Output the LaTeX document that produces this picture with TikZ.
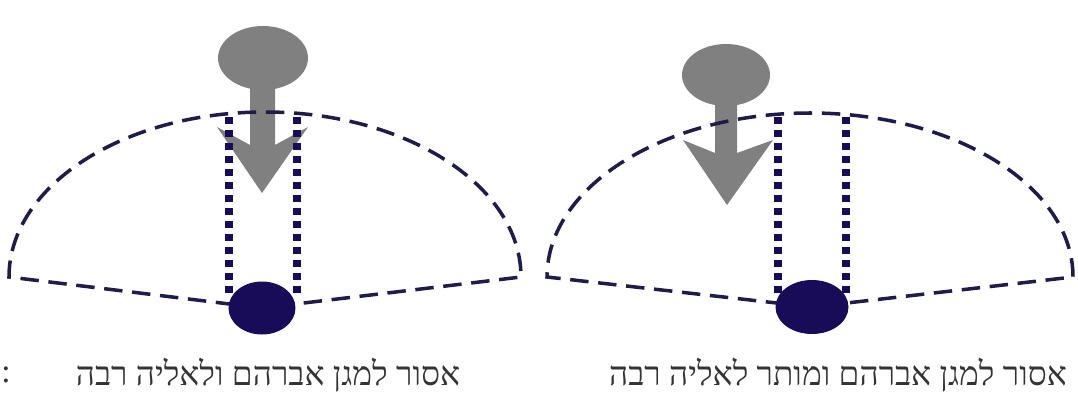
\documentclass[tikz,border=0pt]{standalone}
\usepackage{fontspec}
\newfontfamily\hebfont[Script=Hebrew]{Liberation Serif}
\TeXXeTstate=1
\usepackage{tikz}
\usetikzlibrary{shapes.geometric}
\definecolor{navy}{RGB}{24,12,88}
\definecolor{rimcol}{RGB}{30,28,72}
\definecolor{persongray}{RGB}{128,128,128}

\begin{document}
\begin{tikzpicture}[x=0.02cm, y=0.02cm,
  rim/.style={draw=rimcol, line width=2pt, dash pattern=on 10.5pt off 5.5pt},
  beam/.style={draw=navy, line width=4pt, dash pattern=on 4.2pt off 3.2pt},
  eye/.style={ellipse, fill=navy, inner sep=0pt},
  head/.style={ellipse, fill=persongray, inner sep=0pt},
  caption/.style={font=\hebfont\fontsize{19}{22}\selectfont, text=black!80}]
  \useasboundingbox (0,0) rectangle (1078,417);
  % left: person straight above
  \fill[persongray] (250,335) -- (250,272) -- (217,290) -- (262,224)
    -- (308,290) -- (275,272) -- (275,335) -- cycle;
  \node[head, minimum width=1.8cm, minimum height=1.28cm] (headL) at (263,359) {};
  \coordinate (apexL) at (262,109);
  \draw[rim] (apexL) -- (9,140)
    arc[start angle=180, end angle=0, x radius=256, y radius=165] -- (apexL);
  % right: person off to the side
  \fill[persongray] (715,320) -- (715,264) -- (683,277) -- (727,212)
    -- (773,277) -- (737,264) -- (737,320) -- cycle;
  \node[head, minimum width=1.76cm, minimum height=1.24cm] (headR) at (726,342) {};
  \coordinate (apexR) at (812,110);
  \draw[rim] (apexR) -- (547,140)
    arc[start angle=180, end angle=0, x radius=263, y radius=164] -- (apexR);
  % dotted beams
  \foreach \x in {229,297,778,846}{
    \draw[beam] (\x,300) -- (\x,122);}
  \node[eye, minimum width=1.34cm, minimum height=1.06cm] (eyeL) at (apexL) {};
  \node[eye, minimum width=1.46cm, minimum height=1.08cm] (eyeR) at (apexR) {};
  % captions
  \node[caption] (capL) at (268,42) {\beginR אסור למגן אברהם ולאליה רבה\endR};
  \node[caption] (capR) at (838,42) {\beginR אסור למגן אברהם ומותר לאליה רבה\endR};
  \node[caption] (colon) at (6,42) {:};
\end{tikzpicture}
\end{document}
